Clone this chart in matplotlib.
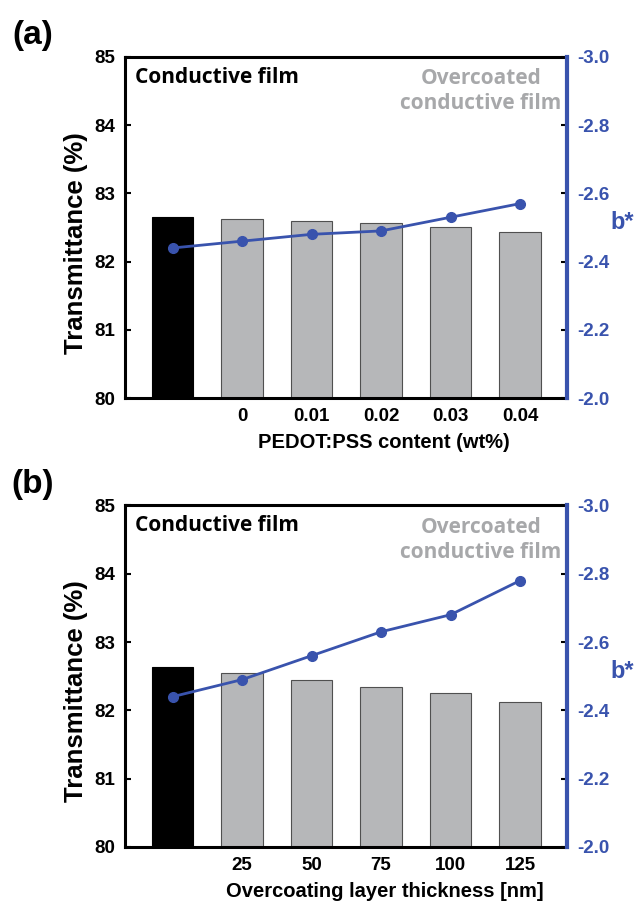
import numpy as np
import matplotlib
matplotlib.use("Agg")
import matplotlib.pyplot as plt

plt.rcParams['font.family'] = ['Liberation Sans', 'DejaVu Sans']
plt.rcParams['axes.unicode_minus'] = False

# panel (a) data
labels_a = ["", "0", "0.01", "0.02", "0.03", "0.04"]
trans_a = [82.65, 82.62, 82.59, 82.56, 82.51, 82.44]
bstar_a = [-2.44, -2.46, -2.48, -2.49, -2.53, -2.57]

# panel (b) data
labels_b = ["", "25", "50", "75", "100", "125"]
trans_b = [82.63, 82.55, 82.44, 82.34, 82.26, 82.12]
bstar_b = [-2.44, -2.49, -2.56, -2.63, -2.68, -2.78]

blue = "#3953ad"
gray = "#b6b7b9"
label_font = ['Open Sans', 'DejaVu Sans']


def panel(ax, labels, trans, bstar, xlabel, tag):
    x = np.arange(len(labels))
    colors = ["black"] + [gray] * (len(labels) - 1)
    edges = ["black"] + ["#505050"] * (len(labels) - 1)
    ax.bar(x, trans, width=0.6, color=colors, edgecolor=edges, linewidth=0.8, zorder=2)
    ax.set_ylim(80, 85)
    ax.set_xlim(-0.68, len(labels) - 0.32)
    ax.set_xticks(x)
    ax.set_xticklabels(labels, fontsize=13.5, fontweight='bold')
    ax.set_yticks([80, 81, 82, 83, 84, 85])
    ax.set_yticklabels([str(v) for v in range(80, 86)], fontsize=13.5, fontweight='bold')
    ax.tick_params(axis='both', direction='in', length=4, width=1.5, pad=7)
    ax.set_ylabel("Transmittance (%)", fontsize=18.5, fontweight='bold', labelpad=5, y=0.455)
    ax.set_xlabel(xlabel, fontsize=14.5, fontweight='bold', labelpad=6, x=0.586)
    for s in ['left', 'bottom', 'top']:
        ax.spines[s].set_linewidth(2.2)
    ax.spines['right'].set_visible(False)

    ax2 = ax.twinx()
    ax2.plot(x, bstar, color=blue, lw=2, marker='o', ms=7, zorder=3)
    ax2.set_ylim(-2.0, -3.0)
    ticks = [-2.0, -2.2, -2.4, -2.6, -2.8, -3.0]
    ax2.set_yticks(ticks)
    ax2.set_yticklabels(["%.1f" % t for t in ticks], fontsize=13.5, fontweight='bold', color=blue)
    ax2.tick_params(axis='y', direction='in', length=4, width=1.5, color='black', pad=7)
    ax2.spines['right'].set_color(blue)
    ax2.spines['right'].set_linewidth(3)
    for s in ['left', 'bottom', 'top']:
        ax2.spines[s].set_visible(False)
    ax.text(1.125, 0.515, "b*", transform=ax.transAxes, fontsize=17, fontweight='bold',
            color=blue, ha='center', va='center')

    ax.text(0.022, 0.94, "Conductive film", transform=ax.transAxes, fontsize=15,
            fontweight='bold', family=label_font, va='center', ha='left')
    ax.text(0.805, 0.90, "Overcoated\nconductive film", transform=ax.transAxes, fontsize=15,
            fontweight='bold', family=label_font, color="#a7a8aa", va='center', ha='center',
            linespacing=1.25)
    ax.text(-0.21, 1.062, tag, transform=ax.transAxes, fontsize=24, fontweight='bold',
            va='center', ha='center')


fig = plt.figure(figsize=(6.36, 9.01), dpi=100)
ax_a = fig.add_axes([0.197, 0.558, 0.695, 0.379])
ax_b = fig.add_axes([0.197, 0.060, 0.695, 0.379])
panel(ax_a, labels_a, trans_a, bstar_a, "PEDOT:PSS content (wt%)", "(a)")
panel(ax_b, labels_b, trans_b, bstar_b, "Overcoating layer thickness [nm]", "(b)")

fig.savefig("out.png", dpi=100)
